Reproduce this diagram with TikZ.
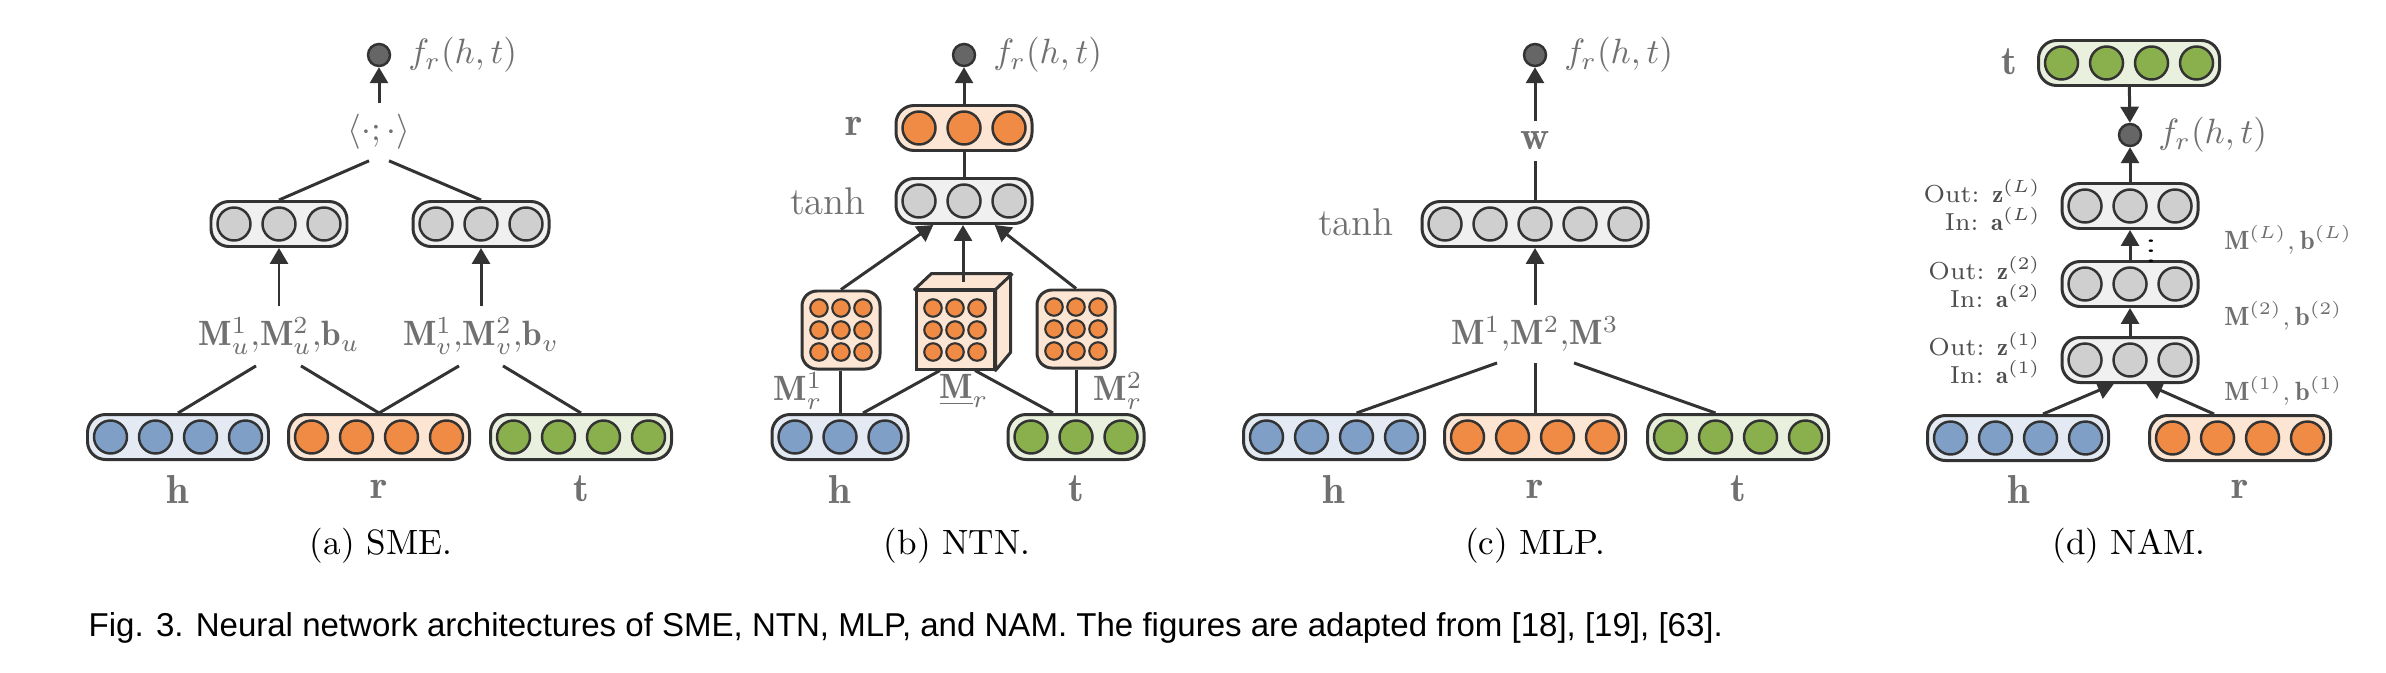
\documentclass[tikz,border=0pt]{standalone}
\usepackage{fontspec}
\newfontfamily\sansfig{Liberation Sans}
\usetikzlibrary{arrows.meta,calc}

% Colores
\definecolor{linea}{RGB}{51,51,51}
\definecolor{texto}{RGB}{112,112,112}
\definecolor{textoosc}{RGB}{78,78,78}
\definecolor{celdaazul}{RGB}{128,159,199}
\definecolor{fondoazul}{RGB}{227,234,244}
\definecolor{celdanaranja}{RGB}{240,139,69}
\definecolor{fondonaranja}{RGB}{252,229,211}
\definecolor{celdaverde}{RGB}{138,176,77}
\definecolor{fondoverde}{RGB}{233,240,221}
\definecolor{celdagris}{RGB}{207,207,207}
\definecolor{fondogris}{RGB}{240,240,240}
\definecolor{gris}{RGB}{102,102,102}

\tikzset{
    capa/.style={draw=linea, line width=0.85pt, rounded corners=1.8mm, minimum height=4.5mm, inner sep=0pt},
    celda/.style={circle, draw=linea, line width=0.7pt, minimum size=3.3mm, inner sep=0pt},
    celdita/.style={circle, draw=linea, line width=0.6pt, minimum size=1.75mm, inner sep=0pt, fill=celdanaranja},
    matriz/.style={draw=linea, line width=0.85pt, rounded corners=1.5mm, minimum size=7.8mm, inner sep=0pt, fill=fondonaranja},
    cara/.style={draw=linea, line width=0.85pt, line join=round, fill=fondonaranja},
    salida/.style={circle, draw=linea, line width=0.7pt, fill=gris, minimum size=2.2mm, inner sep=0pt},
    etiqueta/.style={text=texto, inner sep=3pt},
    vector/.style={etiqueta, font=\fontsize{11.5}{13}\selectfont},
    funcion/.style={etiqueta, font=\fontsize{11}{13}\selectfont},
    capas/.style={etiqueta, text=textoosc, anchor=east, align=right, font=\fontsize{7}{6.8}\selectfont},
    pesos/.style={etiqueta, anchor=west, font=\fontsize{7.5}{9}\selectfont},
    conexion/.style={draw=linea, line width=0.85pt},
    flecha/.style={conexion, -{Triangle[length=1.6mm, width=1.8mm]}},
}

% Dibuja una capa: nombre, x, y, celdas, color
\newcommand{\dibujacapa}[5]{%
    \node[capa, fill=fondo#5, minimum width={#4*4.5mm+0.1mm}] (#1) at (#2,#3) {};
    \foreach \i in {1,...,#4}
        \node[celda, fill=celda#5] (#1-\i) at ($(#1)+({(\i-(#4+1)/2)*45},0)$) {};
}

% Dibuja una matriz 3x3: [opciones] nombre, x, y
\newcommand{\dibujamatriz}[4][]{%
    \node[matriz, #1] (#2) at (#3,#4) {};
    \foreach \i in {1,2,3}
        \foreach \j in {1,2,3}
            \node[celdita] (#2-\i\j) at ($(#2)+({(\i-2)*22},{(\j-2)*22})$) {};
}

\begin{document}
\begin{tikzpicture}[x=0.1mm, y=-0.1mm]
    \useasboundingbox[fill=white] (0,0) rectangle (2386,672);

    % Dibuja el panel (a): SME
    \dibujacapa{a-h}{178}{437}{4}{azul}
    \dibujacapa{a-r}{379}{437}{4}{naranja}
    \dibujacapa{a-t}{581}{437}{4}{verde}
    \dibujacapa{a-cu}{279}{224}{3}{gris}
    \dibujacapa{a-cv}{481}{224}{3}{gris}
    \node[salida] (a-salida) at (379,55) {};
    \node[etiqueta, anchor=west] (a-fr) at (397,55) {$f_r(h,t)$};
    \node[etiqueta] (a-prod) at (379,132) {$\langle\cdot;\cdot\rangle$};
    \node[etiqueta] (a-mu) at (279,336) {$\mathbf{M}_u^1{,}\mathbf{M}_u^2{,}\mathbf{b}_u$};
    \node[etiqueta] (a-mv) at (481,336) {$\mathbf{M}_v^1{,}\mathbf{M}_v^2{,}\mathbf{b}_v$};
    \node[vector] (a-lh) at (178,489) {$\mathbf{h}$};
    \node[vector] (a-lr) at (379,489) {$\mathbf{r}$};
    \node[vector] (a-lt) at (581,489) {$\mathbf{t}$};
    \node (a-titulo) at (381,546) {(a) SME.};
    \draw[flecha] (a-prod) -- (a-salida);
    \draw[conexion] ($(a-prod.south)+(-10,0)$) -- (a-cu.north);
    \draw[conexion] ($(a-prod.south)+(10,0)$) -- (a-cv.north);
    \draw[flecha] (a-mu) -- (a-cu);
    \draw[flecha] (a-mv) -- (a-cv);
    \draw[conexion] ($(a-mu.south)+(-23,0)$) -- (a-h.north);
    \draw[conexion] ($(a-mu.south)+(22,0)$) -- (a-r.north);
    \draw[conexion] ($(a-mv.south)+(-22,0)$) -- (a-r.north);
    \draw[conexion] ($(a-mv.south)+(22,0)$) -- (a-t.north);

    % Dibuja el panel (b): NTN
    \dibujacapa{b-h}{840}{437}{3}{azul}
    \dibujacapa{b-t}{1076}{437}{3}{verde}
    \dibujamatriz{b-m1}{841}{330}
    \dibujamatriz[sharp corners]{b-mr}{955}{330}
    \dibujamatriz{b-m2}{1076}{329}
    \draw[cara] (b-mr.north west) -- ++(17,-16) -- ++(79,0) -- ++(0,79) -- (b-mr.south east) -- (b-mr.north east) -- cycle;
    \draw[cara] (b-mr.north east) -- ++(17,-16);
    \coordinate (b-cubo) at ($(b-mr.north)+(8,-8)$);
    \dibujacapa{b-tanh}{964}{201}{3}{gris}
    \dibujacapa{b-r}{964}{128}{3}{naranja}
    \node[salida] (b-salida) at (964,55) {};
    \node[etiqueta, anchor=west] (b-fr) at (982,55) {$f_r(h,t)$};
    \node[vector, anchor=east] (b-lr) at (874,126) {$\mathbf{r}$};
    \node[funcion, anchor=east] (b-ltanh) at (877,201) {tanh};
    \node[etiqueta] (b-m1l) at (798,391) {$\mathbf{M}_r^1$};
    \node[etiqueta] (b-mrl) at (964,391) {$\underline{\mathbf{M}}_r$};
    \node[etiqueta] (b-m2l) at (1118,391) {$\mathbf{M}_r^2$};
    \node[vector] (b-lh) at (840,489) {$\mathbf{h}$};
    \node[vector] (b-lt) at (1076,489) {$\mathbf{t}$};
    \node (b-titulo) at (957,546) {(b) NTN.};
    \draw[flecha] (b-r) -- (b-salida);
    \draw[conexion] (b-tanh) -- (b-r);
    \draw[flecha] (b-m1.north) -- (b-tanh.218);
    \draw[flecha] (b-cubo) -- (b-cubo |- b-tanh.south);
    \draw[flecha] (b-m2.north) -- (b-tanh.322);
    \draw[conexion] (b-h.north) -- (b-h.north |- b-m1.south);
    \draw[conexion] ($(b-h.north)+(23,0)$) -- ($(b-mr.south)+(-15,0)$);
    \draw[conexion] ($(b-t.north)+(-23,0)$) -- ($(b-mr.south)+(20,0)$);
    \draw[conexion] (b-t.north) -- (b-t.north |- b-m2.south);

    % Dibuja el panel (c): MLP
    \dibujacapa{c-h}{1334}{437}{4}{azul}
    \dibujacapa{c-r}{1535}{437}{4}{naranja}
    \dibujacapa{c-t}{1738}{437}{4}{verde}
    \dibujacapa{c-tanh}{1535}{224}{5}{gris}
    \node[salida] (c-salida) at (1535,55) {};
    \node[etiqueta, anchor=west] (c-fr) at (1553,55) {$f_r(h,t)$};
    \node[vector] (c-w) at (1535,141) {$\mathbf{w}$};
    \node[funcion, anchor=east] (c-ltanh) at (1405,222) {tanh};
    \node[etiqueta] (c-m) at (1535,334) {$\mathbf{M}^1{,}\mathbf{M}^2{,}\mathbf{M}^3$};
    \node[vector] (c-lh) at (1334,489) {$\mathbf{h}$};
    \node[vector] (c-lr) at (1535,489) {$\mathbf{r}$};
    \node[vector] (c-lt) at (1738,489) {$\mathbf{t}$};
    \node (c-titulo) at (1535,546) {(c) MLP.};
    \draw[flecha] (c-w) -- (c-salida);
    \draw[conexion] (c-w) -- (c-tanh);
    \draw[flecha] (c-m) -- (c-tanh);
    \draw[conexion] ($(c-m.south)+(-38,0)$) -- (c-h-3 |- c-h.north);
    \draw[conexion] (c-m) -- (c-r);
    \draw[conexion] ($(c-m.south)+(39,0)$) -- (c-t-2 |- c-t.north);

    % Dibuja el panel (d): NAM
    \dibujacapa{d-t}{2129}{63}{4}{verde}
    \dibujacapa{d-cL}{2130}{206}{3}{gris}
    \dibujacapa{d-c2}{2130}{284}{3}{gris}
    \dibujacapa{d-c1}{2130}{360}{3}{gris}
    \dibujacapa{d-h}{2018}{438}{4}{azul}
    \dibujacapa{d-r}{2240}{438}{4}{naranja}
    \node[salida] (d-salida) at (2130,135) {};
    \node[etiqueta, anchor=west] (d-fr) at (2147,135) {$f_r(h,t)$};
    \node[vector] (d-lt) at (2009,62) {$\mathbf{t}$};
    \node[inner sep=0pt] (d-puntos) at (2151,244) {\scalebox{1.2}[0.7]{$\vdots$}};
    \node[capas] (d-eL) at (2052,205) {Out: $\mathbf{z}^{(L)}$\\In: $\mathbf{a}^{(L)}$};
    \node[capas] (d-e2) at (2052,282) {Out: $\mathbf{z}^{(2)}$\\In: $\mathbf{a}^{(2)}$};
    \node[capas] (d-e1) at (2052,358) {Out: $\mathbf{z}^{(1)}$\\In: $\mathbf{a}^{(1)}$};
    \node[pesos] (d-mL) at (2213,240) {$\mathbf{M}^{(L)},\mathbf{b}^{(L)}$};
    \node[pesos] (d-m2) at (2213,316) {$\mathbf{M}^{(2)},\mathbf{b}^{(2)}$};
    \node[pesos] (d-m1) at (2213,391) {$\mathbf{M}^{(1)},\mathbf{b}^{(1)}$};
    \node[vector] (d-lh) at (2019,489) {$\mathbf{h}$};
    \node[vector] (d-lr) at (2240,489) {$\mathbf{r}$};
    \node (d-titulo) at (2129,546) {(d) NAM.};
    \draw[flecha] (d-t) -- (d-salida);
    \draw[flecha] (d-cL) -- (d-salida);
    \draw[flecha] (d-c2) -- (d-cL);
    \draw[flecha] (d-c1) -- (d-c2);
    \draw[flecha] ($(d-h.north)+(25,0)$) -- (d-c1.236);
    \draw[flecha] ($(d-r.north)+(-26,0)$) -- (d-c1.304);

    % Pie de figura
    \node[anchor=west, inner sep=0pt, font=\sansfig\fontsize{9.4}{11}\selectfont] (pie) at (88,628) {Fig. 3. Neural network architectures of SME, NTN, MLP, and NAM. The figures are adapted from [18], [19], [63].};
\end{tikzpicture}
\end{document}
